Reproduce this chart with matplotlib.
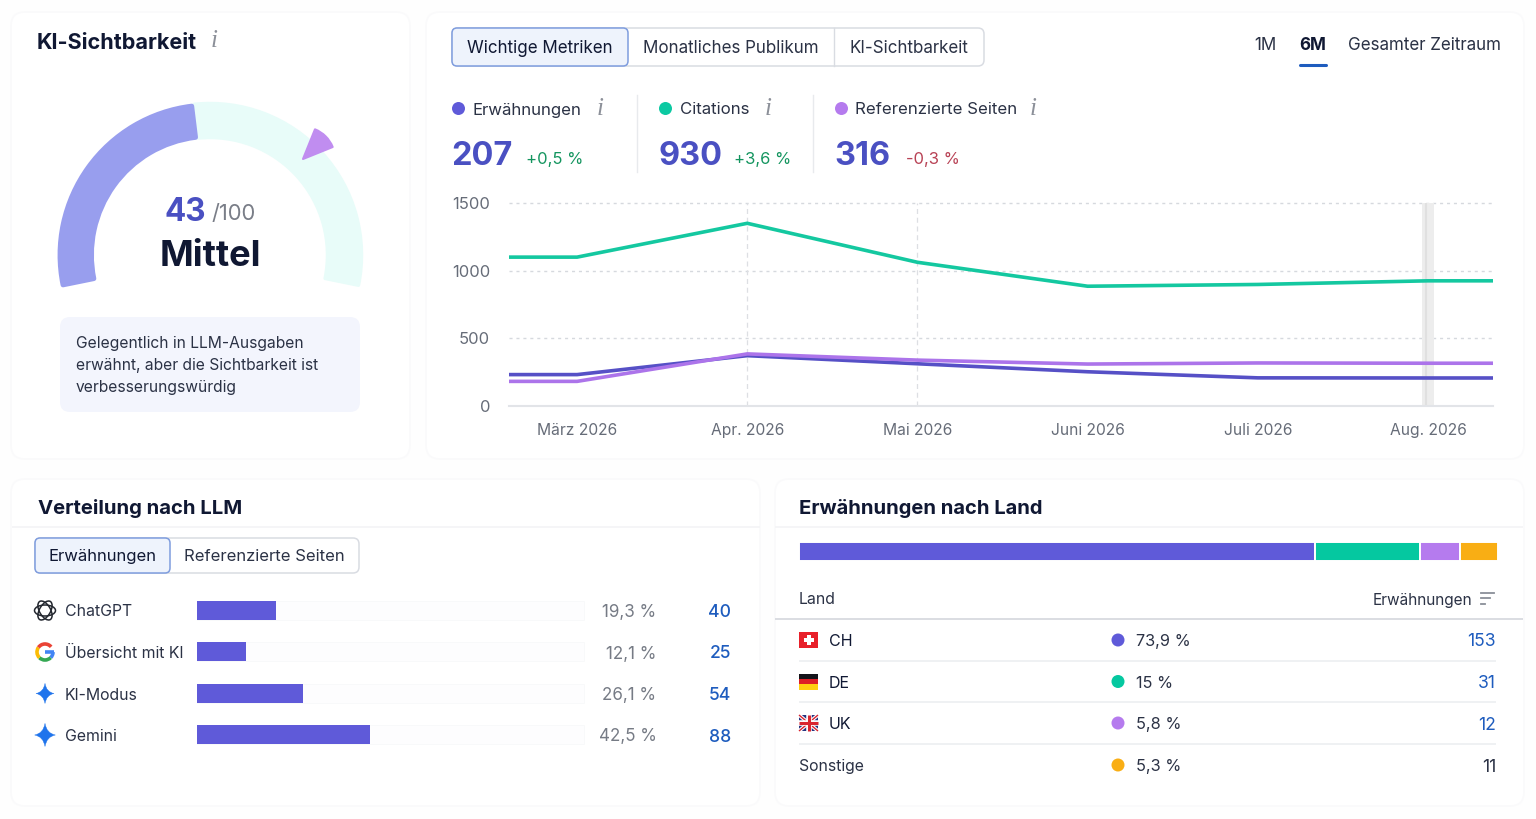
import matplotlib
matplotlib.use("Agg")
import matplotlib.pyplot as plt
from matplotlib.patches import FancyBboxPatch, Rectangle, Wedge, Circle, Ellipse, PathPatch, Arc
from matplotlib.path import Path

# ---------- data ----------
months = ["März 2026", "Apr. 2026", "Mai 2026", "Juni 2026", "Juli 2026", "Aug. 2026"]
citations = [1100, 1350, 1062, 885, 898, 925]
referenced = [182, 385, 339, 310, 318, 316]
mentions = [232, 372, 312, 253, 208, 207]
y_ticks = [0, 500, 1000, 1500]

llm_names = ["ChatGPT", "Übersicht mit KI", "KI-Modus", "Gemini"]
llm_shares = [19.3, 12.1, 26.1, 42.5]
llm_share_labels = ["19,3 %", "12,1 %", "26,1 %", "42,5 %"]
llm_counts = [40, 25, 54, 88]

country_names = ["CH", "DE", "UK", "Sonstige"]
country_shares = [73.9, 15.0, 5.8, 5.3]
country_share_labels = ["73,9 %", "15 %", "5,8 %", "5,3 %"]
country_counts = [153, 31, 12, 11]

metric_names = ["Erwähnungen", "Citations", "Referenzierte Seiten"]
metric_values = ["207", "930", "316"]
metric_deltas = ["+0,5 %", "+3,6 %", "-0,3 %"]

# ---------- style ----------
INDIGO = "#5F5AD9"
LINE_INDIGO = "#5650C6"
TEAL = "#0CC9A2"
LINE_TEAL = "#14C8A0"
VIOLET = "#B57BEE"
AMBER = "#F9AE14"
DARK = "#101833"
BODY = "#2B3245"
GRAY = "#6E7480"
LINK = "#1E5CBE"
HEAD = "#4A50C2"
FONT = "Inter"

plt.rcParams["font.family"] = [FONT, "DejaVu Sans"]
W, H = 1536, 819
fig = plt.figure(figsize=(W / 100, H / 100), dpi=100, facecolor="#FEFEFE")
ov = fig.add_axes([0, 0, 1, 1])
ov.set_xlim(0, W)
ov.set_ylim(H, 0)
ov.axis("off")


def T(x, y, s, px=16, color=BODY, weight="normal", ha="left", va="center_baseline", **kw):
    return ov.text(x, y, s, fontsize=px * 0.72, color=color, fontweight=weight, ha=ha, va=va, **kw)


def box(x0, y0, x1, y1, r=8, fc="white", ec="none", lw=1, z=1):
    p = FancyBboxPatch((x0 + r, y0 + r), x1 - x0 - 2 * r, y1 - y0 - 2 * r,
                       boxstyle=f"round,pad={r},rounding_size={r}", fc=fc, ec=ec, lw=lw, zorder=z)
    ov.add_patch(p)
    return p


def hline(x0, x1, y, color="#F3F4F6", lw=1.2, z=2):
    ov.plot([x0, x1], [y, y], color=color, lw=lw, zorder=z, solid_capstyle="butt")


def info(x, y):
    ov.text(x, y, "i", fontsize=18, family="Liberation Serif", style="italic", color="#8C9099",
            ha="center", va="center")


def dot(x, y, color, r=6.5):
    ov.add_patch(Circle((x, y), r, fc=color, ec="none", zorder=4))


def spark(cx, cy, r, color="#1F74EC"):
    k = r * 0.72
    verts = [(cx, cy - r), (cx + r * 0.14, cy - r * 0.14), (cx + k * 1.25, cy),
             (cx + r * 0.14, cy + r * 0.14), (cx, cy + r),
             (cx - r * 0.14, cy + r * 0.14), (cx - k * 1.25, cy),
             (cx - r * 0.14, cy - r * 0.14), (cx, cy - r)]
    codes = [Path.MOVETO] + [Path.CURVE3] * 8
    ov.add_patch(PathPatch(Path(verts, codes), fc=color, ec=color, lw=0.3, zorder=4))


def tabs(x_edges, y0, y1, labels, px=17.0):
    box(x_edges[0], y0, x_edges[-1], y1, r=6, fc="white", ec="#D9DCE2", lw=1.1, z=2)
    box(x_edges[0], y0, x_edges[1], y1, r=5, fc="#EEF3FC", ec="#7F9DDE", lw=1.1, z=3)
    for xe in x_edges[2:-1]:
        ov.plot([xe, xe], [y0, y1], color="#D9DCE2", lw=1.0, zorder=3)
    for i, lab in enumerate(labels):
        T((x_edges[i] + x_edges[i + 1]) / 2, (y0 + y1) / 2 - 0.5, lab, px=px,
          color=DARK if i == 0 else BODY, ha="center", zorder=5)


# ---------- cards ----------
for c in [(11, 12, 410, 459), (426, 12, 1524, 459), (11, 479, 760, 806), (775, 479, 1524, 806)]:
    box(*c, r=14, fc="white", ec="#FAFAFB", lw=1.2, z=0.5)

# ---------- gauge card ----------
T(37, 41, "KI-Sichtbarkeit", px=21.6, color=DARK, weight="bold")
info(214, 41)
GC = (210, 255)
ov.add_patch(Wedge(GC, 151.5, -96, 11.5, width=34, fc="#E8FCF9", ec="#E8FCF9", lw=2.5, joinstyle="round", zorder=2))
ov.add_patch(Wedge(GC, 150, -191.5, -97, width=31.5, fc="#989EEE", ec="#989EEE", lw=3.5, joinstyle="round", zorder=3))
ov.add_patch(Wedge((303, 159), 32, -68, -22, fc="#C08DF0", ec="#C08DF0", lw=1.5, joinstyle="round", zorder=4))
T(165, 209, "43", px=31.5, color=HEAD, weight="bold")
T(211, 212, "/100", px=22, color="#7A7E88")
T(210, 252.5, "Mittel", px=36.3, color=DARK, weight="bold", ha="center")
box(60, 317, 360, 412, r=10, fc="#F3F5FD", z=2)
for yy, line in zip([342, 364, 386], ["Gelegentlich in LLM-Ausgaben", "erwähnt, aber die Sichtbarkeit ist", "verbesserungswürdig"]):
    T(76, yy, line, px=15.6, color=BODY, zorder=5)

# ---------- metrics card ----------
tabs([452, 628, 834, 984], 28, 66, ["Wichtige Metriken", "Monatliches Publikum", "KI-Sichtbarkeit"])
T(1254, 44, "1M", px=17, color=BODY)
T(1299.5, 44, "6M", px=17, color=DARK, weight="bold")
T(1348, 44, "Gesamter Zeitraum", px=17, color=BODY)
ov.plot([1300, 1326], [64.5, 64.5], color="#1E5CBE", lw=2.2, solid_capstyle="round", zorder=4)

metric_x = [452, 659, 835]
metric_colors = [INDIGO, TEAL, VIOLET]
metric_text_dx = [21, 21, 20]
metric_info_x = [600, 768, 1033]
delta_x = [526, 734, 907]
delta_colors = ["#14955F", "#14955F", "#B84255"]
for i, name in enumerate(metric_names):
    dot(metric_x[i] + 6.5, 108.5, metric_colors[i])
    T(metric_x[i] + metric_text_dx[i], 108.5, name, px=16.8, color=BODY)
    info(metric_info_x[i], 109)
    T(metric_x[i] - 1, 153, metric_values[i], px=32.5, color=HEAD, weight="bold")
    T(delta_x[i] - 0.5, 158, metric_deltas[i], px=16.6, color=delta_colors[i])
for xv in [637, 813]:
    ov.plot([xv, xv], [95, 172], color="#E8EAED", lw=1, zorder=2)

# line chart, real axes
L, R, TOP, BOT = 509, 1493, 203, 406
ax = fig.add_axes([L / W, 1 - BOT / H, (R - L) / W, (BOT - TOP) / H])
ax.patch.set_alpha(0)
x0 = -0.40
x1 = 5.382
ax.set_xlim(x0, x1)
ax.set_ylim(0, 1500)
xs = list(range(len(months)))
px_ = [x0] + xs + [x1]
for vals, col, z in [(citations, LINE_TEAL, 4), (mentions, LINE_INDIGO, 5), (referenced, "#AC74EA", 6)]:
    ax.plot(px_, [vals[0]] + vals + [vals[-1]], color=col, lw=2.6, zorder=z,
            solid_joinstyle="miter", solid_capstyle="butt", clip_on=False)
for yv in y_ticks[1:]:
    ax.axhline(yv, color="#D6D9DE", lw=1, ls=(0, (2.2, 2.8)), zorder=1, clip_on=False)
for xv in xs[1:3]:
    ax.axvline(xv, color="#DDDFE3", lw=0.9, ls=(0, (4, 3)), zorder=1)
ax.axvspan(xs[5] - 0.035, xs[5] + 0.035, color="#EDEDED", lw=0, zorder=2)
ax.axvline(xs[5] - 0.012, color="#E0E0E0", lw=1.5, zorder=2)
for s in ["top", "left", "right"]:
    ax.spines[s].set_visible(False)
ax.spines["bottom"].set_color("#E2E4E8")
ax.spines["bottom"].set_linewidth(1.5)
ax.set_xticks(xs, months)
ax.set_yticks(y_ticks, [str(v) for v in y_ticks])
ax.tick_params(axis="x", length=0, labelcolor="#666C78", labelsize=15.6 * 0.72, pad=12)
ax.tick_params(axis="y", length=0, labelcolor="#666C78", labelsize=16.6 * 0.72, pad=13.5)
for lab in ax.get_yticklabels():
    lab.set_y(lab.get_position()[1])
    lab.set_verticalalignment("center_baseline")

# ---------- LLM card ----------
T(38, 507, "Verteilung nach LLM", px=20.3, color=DARK, weight="bold")
hline(12, 760, 527)
tabs([35, 170, 359], 538, 573, ["Erwähnungen", "Referenzierte Seiten"], px=16.7)

row_y = [610.5, 652, 693.5, 735]
bar_left, bar_px = 197, 408
bx = fig.add_axes([bar_left / W, 1 - 756 / H, bar_px / W, 166 / H])
bx.patch.set_alpha(0)
bx.set_xlim(0, 100)
bx.set_ylim(756, 590)
bx.axis("off")
bx.barh(row_y, [94.8] * 4, height=19, color="#FDFDFE", edgecolor="#F8F9FA", lw=0.6, zorder=1)
bx.barh(row_y, llm_shares, height=19, color=INDIGO, lw=0, zorder=2)
for y, name, lab, cnt in zip(row_y, llm_names, llm_share_labels, llm_counts):
    T(65, y, name, px=15.8, color=BODY)
    T(656.5, y, lab, px=17, color="#767B85", ha="right")
    T(731, y, str(cnt), px=17.5, color=LINK, weight="medium", ha="right")

# ChatGPT knot icon
cgx, cgy = 45, row_y[0]
for ang in (0, 60, 120):
    ov.add_patch(Ellipse((cgx, cgy), 21, 11, angle=ang, fc="none", ec="#23272F", lw=1.1, zorder=4))
ov.add_patch(Circle((cgx, cgy), 3.5, fc="white", ec="none", zorder=5))
# Google G icon
gx, gy = 45, row_y[1]
for t1, t2, col in [(0, 45, "#4285F4"), (45, 135, "#34A853"), (135, 215, "#FBBC05"), (215, 320, "#EA4335")]:
    ov.add_patch(Arc((gx, gy), 16, 16, theta1=t1, theta2=t2, color=col, lw=2.6, zorder=4))
ov.plot([gx, gx + 9], [gy, gy], color="#4285F4", lw=2.6, solid_capstyle="butt", zorder=4)
spark(45, row_y[2], 10)
spark(45, row_y[3], 11.5)

# ---------- country card ----------
T(799, 507, "Erwähnungen nach Land", px=20.2, color=DARK, weight="bold")
hline(775, 1523, 527)
cx = fig.add_axes([798.5 / W, 1 - 560.5 / H, 699 / W, 19 / H])
cx.patch.set_alpha(0)
cx.set_xlim(0, sum(country_shares))
cx.set_ylim(0, 1)
cx.axis("off")
country_colors = [INDIGO, "#05C8A0", VIOLET, AMBER]
left = 0
for share, col in zip(country_shares, country_colors):
    cx.barh(0.5, share, left=left, height=1, color=col, edgecolor="white", linewidth=1.4)
    left += share

T(799, 598.5, "Land", px=15.8, color=BODY)
T(1472, 598.5, "Erwähnungen", px=15.4, color=BODY, ha="right")
for yy, xx in zip([592.5, 598, 603.5], [1494, 1490, 1485]):
    ov.plot([1480.5, xx], [yy, yy], color="#8A8F98", lw=1.3, zorder=3)
hline(775, 1523, 619, color="#DADDE2", lw=1.4)
table_y = [640, 681.5, 723, 765]
for yy in [660.5, 702, 744]:
    hline(799, 1496, yy, color="#EEF0F2", lw=1.3)
for i, (y, name, lab, cnt) in enumerate(zip(table_y, country_names, country_share_labels, country_counts)):
    T(829 if i < 3 else 799, y, name, px=16 if i < 3 else 15.8, color=DARK if i < 3 else BODY)
    dot(1118, y, country_colors[i], r=6.5)
    T(1136, y, lab, px=16.3, color=BODY)
    T(1496, y, str(cnt), px=17.5, color=LINK if i < 3 else BODY, ha="right")

# flags
fx, fw, fh = 799, 19, 16
fy = table_y[0] - 8
ov.add_patch(Rectangle((fx, fy), fw, fh, fc="#E8202A", ec="none", zorder=4))
ov.add_patch(Rectangle((fx + 7.5, fy + 3), 4, 10, fc="white", ec="none", zorder=5))
ov.add_patch(Rectangle((fx + 4.5, fy + 6), 10, 4, fc="white", ec="none", zorder=5))
fy = table_y[1] - 8
for k, col in enumerate(["#14141A", "#DD1F26", "#FFCF10"]):
    ov.add_patch(Rectangle((fx, fy + k * fh / 3), fw, fh / 3 + 0.2, fc=col, ec="none", zorder=4))
fy = table_y[2] - 8
ov.add_patch(Rectangle((fx, fy), fw, fh, fc="#27337F", ec="none", zorder=4))
for (a, b, c, d) in [(fx, fy, fx + fw, fy + fh), (fx, fy + fh, fx + fw, fy)]:
    ov.plot([a, c], [b, d], color="white", lw=2.6, zorder=5, solid_capstyle="butt")
    ov.plot([a, c], [b, d], color="#D9252F", lw=1, zorder=6, solid_capstyle="butt")
ov.plot([fx + fw / 2] * 2, [fy, fy + fh], color="white", lw=4, zorder=7, solid_capstyle="butt")
ov.plot([fx, fx + fw], [fy + fh / 2] * 2, color="white", lw=4, zorder=7, solid_capstyle="butt")
ov.plot([fx + fw / 2] * 2, [fy, fy + fh], color="#D9252F", lw=2.2, zorder=8, solid_capstyle="butt")
ov.plot([fx, fx + fw], [fy + fh / 2] * 2, color="#D9252F", lw=2.2, zorder=8, solid_capstyle="butt")

fig.savefig("out.png", dpi=100, facecolor=fig.get_facecolor())
